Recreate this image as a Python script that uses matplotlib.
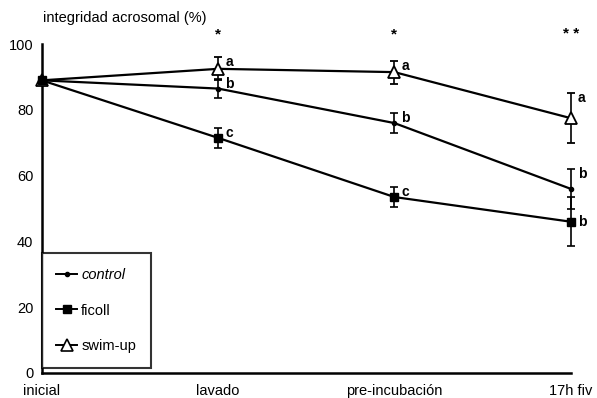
import matplotlib.pyplot as plt
from matplotlib.lines import Line2D
import numpy as np

plt.rcParams['font.family'] = ['Liberation Sans', 'DejaVu Sans']

# acrosome integrity (%) per treatment at each time point
etapas = ['inicial', 'lavado', 'pre-incubación', '17h fiv']
control = [89, 86.5, 76, 56]
control_err = [0, 3, 3, 6]
ficoll = [89, 71.5, 53.5, 46]
ficoll_err = [0, 3, 3, 7.5]
swimup = [89, 92.5, 91.5, 77.5]
swimup_err = [0, 3.5, 3.5, 7.5]

letras_control = ['', 'b', 'b', 'b']
letras_ficoll = ['', 'c', 'c', 'b']
letras_swimup = ['', 'a', 'a', 'a']
signif = ['', '*', '*', '* *']

x = np.arange(len(etapas))

fig = plt.figure(figsize=(5.97, 3.98), dpi=100)
ax = fig.add_axes([0.070, 0.063, 0.886, 0.826])

estilo = dict(color='black', lw=1.6, capsize=3, elinewidth=1.2, capthick=1.2, clip_on=False)
ax.errorbar(x, control, yerr=control_err, marker='o', ms=3, zorder=3, **estilo)
ax.errorbar(x, swimup, yerr=swimup_err, marker='^', ms=8, mfc='white', mew=1.3,
            zorder=3, **estilo)
ax.errorbar(x, ficoll, yerr=ficoll_err, marker='s', ms=6, zorder=4, **estilo)

# letters next to each point
for i in range(1, len(x)):
    ax.text(x[i] + 0.04, swimup[i] + swimup_err[i] - 1.5, letras_swimup[i],
            fontsize=10, fontweight='bold', ha='left', va='center')
    ax.text(x[i] + 0.04, control[i] + control_err[i] - 1.5, letras_control[i],
            fontsize=10, fontweight='bold', ha='left', va='center')
    ax.text(x[i] + 0.04, ficoll[i] + ficoll_err[i] - 1.5 if i < 3 else ficoll[i], letras_ficoll[i],
            fontsize=10, fontweight='bold', ha='left', va='center')
    ax.text(x[i], 103, signif[i], fontsize=11, fontweight='bold', ha='center', va='center')

ax.set_xlim(0, 3)
ax.set_ylim(0, 100)
ax.set_yticks([0, 20, 40, 60, 80, 100])
ax.set_xticks(x)
ax.set_xticklabels(etapas)
ax.tick_params(axis='both', length=0, labelsize=10.5, pad=6)
ax.tick_params(axis='x', pad=8)
ax.spines['top'].set_visible(False)
ax.spines['right'].set_visible(False)
ax.spines['left'].set_linewidth(1.8)
ax.spines['bottom'].set_linewidth(1.8)

fig.text(0.072, 0.955, 'integridad acrosomal (%)', fontsize=10.5, ha='left', va='center')

handles = [
    Line2D([], [], color='black', lw=1.4, marker='o', ms=3),
    Line2D([], [], color='black', lw=1.4, marker='s', ms=6),
    Line2D([], [], color='black', lw=1.4, marker='^', ms=8, mfc='white', mew=1.2),
]
leg = ax.legend(handles, ['control', 'ficoll', 'swim-up'], loc='lower left',
                bbox_to_anchor=(0.0, 0.015), borderaxespad=0, frameon=True, fancybox=False,
                edgecolor='black', fontsize=10.5, handlelength=1.4, handletextpad=0.3,
                labelspacing=1.5, borderpad=1.0, numpoints=1)
leg.get_frame().set_linewidth(1.5)
leg.get_texts()[0].set_style('italic')

fig.savefig('out.png', dpi=100)
